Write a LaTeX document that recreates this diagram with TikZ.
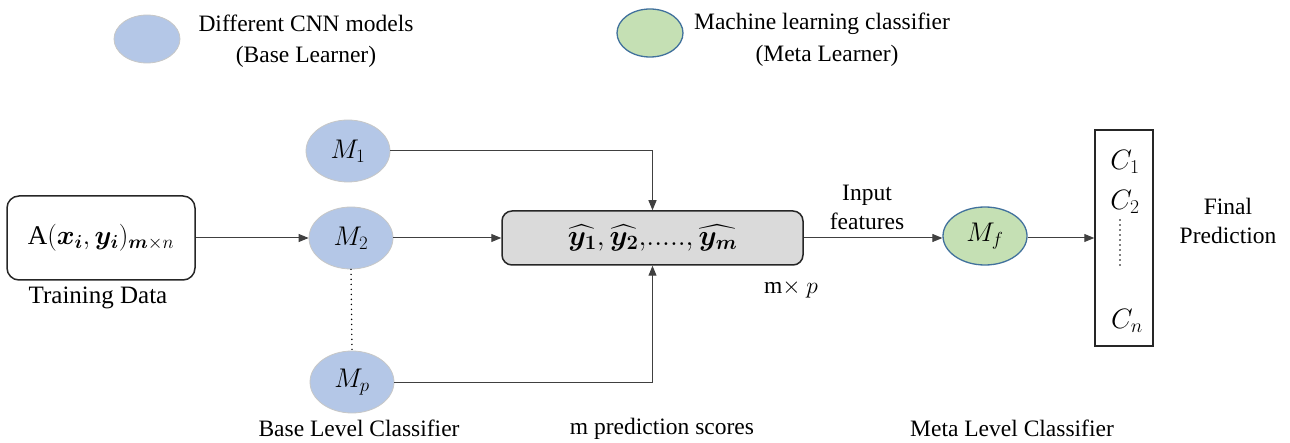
\RequirePackage{fix-cm}
\documentclass[tikz,border=0pt]{standalone}
\usepackage{amsmath}
\usepackage{bm}
\usepackage{fontspec}
\setmainfont{Liberation Serif}
\usetikzlibrary{shapes.geometric,arrows.meta}
\definecolor{baseblue}{HTML}{B4C7E7}
\definecolor{metagreen}{HTML}{C5E0B4}
\definecolor{metaedge}{HTML}{41719C}
\definecolor{predgray}{HTML}{DADADA}
\tikzset{
  basenode/.style={ellipse, fill=baseblue, draw=black!22, line width=0.8pt, minimum width=84pt, minimum height=62pt, inner sep=0pt, font=\fontsize{27}{32}\selectfont},
  metanode/.style={ellipse, fill=metagreen, draw=metaedge, line width=1.3pt, minimum width=84pt, minimum height=58pt, inner sep=0pt, font=\fontsize{27}{32}\selectfont},
  conn/.style={draw=black!75, line width=1pt},
  arr/.style={conn, -{Triangle[length=10pt,width=8pt]}},
  lbl/.style={font=\fontsize{23.5}{29}\selectfont, inner sep=0pt},
  cls/.style={font=\fontsize{28}{32}\selectfont, inner sep=0pt},
  dotline/.style={black, line width=1.6pt, line cap=round, dash pattern=on 0pt off 5pt},
}
\begin{document}
\begin{tikzpicture}[x=1pt,y=-1pt]
\useasboundingbox (0,0) rectangle (1290,443);
% legend
\node[basenode, minimum width=66pt, minimum height=48pt] (legb) at (147,39) {};
\node[lbl, anchor=base] (legbta) at (306,32) {Different CNN models};
\node[lbl, anchor=base] (legbtb) at (306,63) {(Base Learner)};
\node[metanode, minimum width=66pt, minimum height=48pt] (legm) at (650,33) {};
\node[lbl, anchor=base] (legmta) at (822,30) {Machine learning classifier};
\node[lbl, anchor=base] (legmtb) at (827,62) {(Meta Learner)};
% training data
\node[draw=black!85, rounded corners=12pt, line width=1.5pt, minimum width=188pt, minimum height=84pt, inner sep=0pt, font=\fontsize{27}{32}\selectfont] (train) at (101,238) {A$(\bm{x_i},\bm{y_i})_{\bm{m}\times n}$};
\node[lbl, font=\fontsize{25}{29}\selectfont, anchor=base] (trainlbl) at (98,304) {Training Data};
% base learners
\node[basenode] (M1) at (348,151) {$M_1$};
\node[basenode] (M2) at (351,238) {$M_2$};
\node[basenode] (Mp) at (352,382) {$M_p$};
\node[lbl, anchor=base] (baselbl) at (359,436) {Base Level Classifier};
\draw[dotline] (M2.south) -- (Mp.north);
% predictions
\node[draw=black!85, fill=predgray, rounded corners=10pt, line width=1.5pt, minimum width=301pt, minimum height=54pt, inner sep=0pt, font=\fontsize{29}{34}\selectfont] (pred) at (652.5,238) {$\widehat{\bm{y_1}}{,}\,\widehat{\bm{y_2}}{,}{\ldotp}{\ldotp}{\ldotp}{\ldotp}{\ldotp}{,}\,\widehat{\bm{y_m}}$};
\node[lbl, anchor=base] (mxp) at (791,294) {m$\times$ $p$};
\node[lbl, anchor=base] (scores) at (662,434) {m prediction scores};
% meta learner
\node[metanode] (Mf) at (985,236) {$M_f$};
\node[lbl, align=center] (inlbl) at (867,207) {Input\\features};
\node[lbl, anchor=base] (metalbl) at (1012,436) {Meta Level Classifier};
% output
\node[draw=black!85, line width=1.5pt, minimum width=58pt, minimum height=216pt, inner sep=0pt] (out) at (1124,238) {};
\node[cls] (C1) at (1125,162) {$C_1$};
\node[cls] (C2) at (1125,202) {$C_2$};
\node[cls] (Cn) at (1127,321) {$C_n$};
\coordinate (dt) at (1120,220);
\coordinate (db) at (1120,268);
\draw[dotline] (dt) -- (db);
\node[lbl, align=center] (final) at (1228,221) {Final\\Prediction};
% connectors
\draw[arr] (train.east) -- (M2.west);
\draw[arr] (M1.east) -| (pred.north);
\draw[arr] (M2.east) -- (pred.west);
\draw[arr] (Mp.east) -| (pred.south);
\draw[arr] (pred.east) -- (pred.east -| Mf.west);
\draw[arr] (Mf.east |- out.west) -- (out.west);
\end{tikzpicture}
\end{document}
